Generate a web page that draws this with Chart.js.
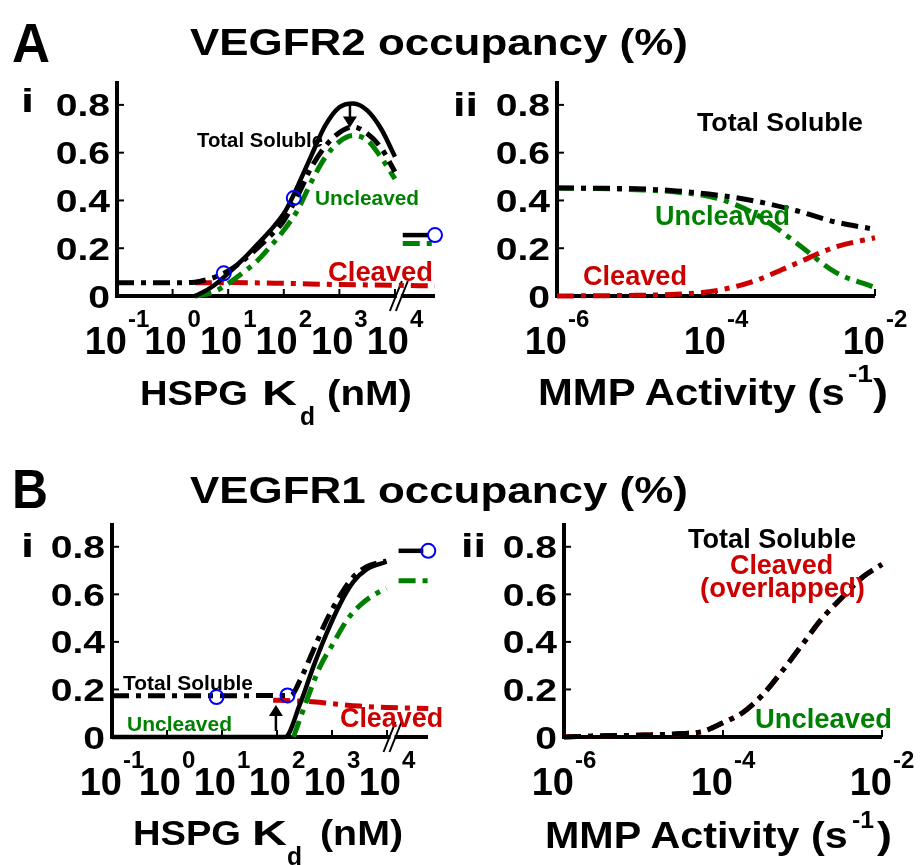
<!DOCTYPE html>
<html>
<head>
<meta charset="utf-8">
<title>VEGFR occupancy</title>
<script src="https://cdn.jsdelivr.net/npm/chart.js@4.4.1/dist/chart.umd.min.js"></script>
<style>
  html, body { margin: 0; padding: 0; background: #fff; }
  #fig { position: relative; width: 920px; height: 865px; overflow: hidden; background: #fff; }
  #fig canvas { position: absolute; left: 0; top: 0; }
  .lbl { position: absolute; white-space: nowrap; line-height: 1; font-family: "Liberation Sans", Arial, sans-serif; font-weight: bold; transform-origin: 0 0; }
</style>
</head>
<body>
<div id="fig">
  <canvas id="cAi" width="920" height="865"></canvas>
  <canvas id="cAii" width="920" height="865"></canvas>
  <canvas id="cBi" width="920" height="865"></canvas>
  <canvas id="cBii" width="920" height="865"></canvas>
</div>
<script>
// x values are log10 of the axis quantity (HSPG Kd in nM, MMP activity in 1/s)

// --- A-i: VEGFR2 vs HSPG Kd
const aiSolidX = [0.4, 0.5, 0.75, 1, 1.25, 1.5, 1.75, 2, 2.125, 2.25, 2.5, 2.75, 3, 3.25, 3.5, 3.75, 4];
const aiSolidY = [0, 0.01, 0.045, 0.095, 0.15, 0.21, 0.272, 0.345, 0.398, 0.46, 0.59, 0.715, 0.79, 0.806, 0.777, 0.70, 0.583];
const aiTotalX = [-1, -0.5, 0, 0.4, 0.5, 0.75, 1, 1.25, 1.5, 1.75, 2, 2.25, 2.5, 2.75, 3, 3.25, 3.5, 3.75, 4];
const aiTotalY = [0.055, 0.055, 0.055, 0.058, 0.062, 0.078, 0.105, 0.145, 0.195, 0.25, 0.315, 0.42, 0.54, 0.628, 0.684, 0.708, 0.68, 0.62, 0.52];
const aiUnclX = [0.4, 0.5, 0.75, 1, 1.25, 1.5, 1.75, 2, 2.25, 2.5, 2.75, 3, 3.25, 3.5, 3.75, 4];
const aiUnclY = [0, 0.003, 0.018, 0.052, 0.095, 0.142, 0.205, 0.275, 0.36, 0.48, 0.582, 0.646, 0.672, 0.652, 0.58, 0.49];
const aiCleavX = [0.4, 1, 2, 3, 4, 4.72];
const aiCleavY = [0.055, 0.056, 0.053, 0.048, 0.045, 0.042];
// no-HSPG case, drawn past the axis break
const aiNoHspgSolidX = [4.14, 4.6];
const aiNoHspgSolidY = [0.255, 0.255];
const aiNoHspgUnclX = [4.14, 4.68];
const aiNoHspgUnclY = [0.22, 0.22];
const aiCircleX = [0.92, 2.18, 4.72];
const aiCircleY = [0.095, 0.41, 0.255];

// --- A-ii: VEGFR2 vs MMP activity
const aiiX = [-6, -5.5, -5, -4.5, -4, -3.5, -3, -2.5, -2];
const aiiTotal = [0.452, 0.451, 0.449, 0.44, 0.423, 0.397, 0.358, 0.31, 0.279];
const aiiUncl = [0.452, 0.45, 0.445, 0.435, 0.41, 0.342, 0.225, 0.10, 0.035];
const aiiCleav = [0, 0.001, 0.003, 0.007, 0.022, 0.065, 0.135, 0.205, 0.244];

// --- B-i: VEGFR1 vs HSPG Kd
const biSolidX = [-1, 2.145, 2.42, 2.66, 2.9, 3.15, 3.39, 3.63, 3.99];
const biSolidY = [0, 0, 0.14, 0.295, 0.435, 0.561, 0.653, 0.705, 0.737];
const biTotalX = [-1, 2.25, 2.42, 2.66, 2.9, 3.15, 3.39, 3.63, 3.99];
const biTotalY = [0.173, 0.175, 0.239, 0.365, 0.491, 0.596, 0.674, 0.716, 0.741];
const biUnclX = [2.3, 2.54, 2.78, 3.02, 3.27, 3.51, 3.75, 3.99];
const biUnclY = [0, 0.154, 0.295, 0.393, 0.491, 0.554, 0.596, 0.625];
const biCleavX = [1.93, 2.3, 2.7, 3.0, 3.5, 4.0, 4.75];
const biCleavY = [0.155, 0.152, 0.147, 0.14, 0.13, 0.124, 0.12];
const biNoHspgSolidX = [4.21, 4.66];
const biNoHspgSolidY = [0.783, 0.783];
const biNoHspgUnclX = [4.21, 4.75];
const biNoHspgUnclY = [0.657, 0.657];
const biCircleX = [0.9, 2.19, 4.75];
const biCircleY = [0.168, 0.175, 0.783];

// --- B-ii: VEGFR1 vs MMP activity (cleaved overlaps total)
const biiX = [-6, -5.5, -5, -4.5, -4.25, -4, -3.75, -3.5, -3.25, -3, -2.75, -2.5, -2.25, -2];
const biiTotal = [0, 0.005, 0.008, 0.015, 0.024, 0.06, 0.103, 0.178, 0.28, 0.39, 0.50, 0.588, 0.671, 0.726];
const biiCleav = [0, 0.005, 0.008, 0.015, 0.024, 0.06, 0.103, 0.178, 0.28, 0.39, 0.50, 0.588, 0.671, 0.726];

// ticks
const kdTicks = [-1, 0, 1, 2, 3, 4];
const mmpTicks = [-6, -4, -2];
const yTicks = [0, 0.2, 0.4, 0.6, 0.8];
const yTickText = ['0', '0.2', '0.4', '0.6', '0.8'];

const W = 920, H = 865;
const BLACK = '#000000', GREEN = '#008000', RED = '#cc0000', BLUE = '#0000ff';
const DASHDOT = [17, 7, 5, 7];
const FONT = '"Liberation Sans", Arial, sans-serif';

function pts(xs, ys) { return xs.map((x, i) => ({ x, y: ys[i] })); }

function curve(xs, ys, color, dashed) {
  return {
    data: pts(xs, ys),
    borderColor: color,
    borderWidth: dashed ? 5 : 4.5,
    borderDash: dashed ? DASHDOT : [],
    borderCapStyle: 'butt',
    borderJoinStyle: 'round',
    pointRadius: 0,
    fill: false,
    cubicInterpolationMode: 'monotone',
    clip: false
  };
}

function circles(xs, ys) {
  return {
    data: pts(xs, ys),
    showLine: false,
    pointRadius: 7,
    pointBorderWidth: 2,
    pointBorderColor: BLUE,
    pointBackgroundColor: 'rgba(0,0,0,0)',
    clip: false
  };
}

function stretchText(ctx, str, x, y, sx, align) {
  ctx.save();
  ctx.translate(x, y);
  ctx.scale(sx, 1);
  ctx.textAlign = align;
  ctx.fillText(str, 0, 0);
  ctx.restore();
}

// axes, ticks, break marks, arrows and tick labels drawn by hand (MATLAB look)
const panelAxes = {
  id: 'panelAxes',
  beforeDatasetsDraw(chart, args, o) {
    const { ctx, chartArea: a } = chart;
    const x = chart.scales.x, y = chart.scales.y;
    ctx.save();
    ctx.strokeStyle = BLACK;
    ctx.lineWidth = 4;
    ctx.lineJoin = 'miter';
    ctx.beginPath();
    ctx.moveTo(a.left, a.top);
    ctx.lineTo(a.left, a.bottom);
    ctx.lineTo(a.right, a.bottom);
    ctx.stroke();
    ctx.lineWidth = 2;
    o.yTicks.forEach(v => {
      if (v === 0) return;
      const py = y.getPixelForValue(v);
      ctx.beginPath(); ctx.moveTo(a.left, py); ctx.lineTo(a.left + 7, py); ctx.stroke();
    });
    o.xTicks.forEach(v => {
      const px = x.getPixelForValue(v);
      if (px <= a.left + 2) return;
      ctx.beginPath(); ctx.moveTo(px, a.bottom); ctx.lineTo(px, a.bottom - 7); ctx.stroke();
    });
    if (o.breakAt != null) {
      const bx = x.getPixelForValue(o.breakAt);
      ctx.fillStyle = '#fff';
      ctx.fillRect(bx - 2, a.bottom - 3, 4, 6);
      ctx.lineWidth = 2;
      [-3, 3].forEach(d => {
        ctx.beginPath();
        ctx.moveTo(bx + d - 6, a.bottom + 15);
        ctx.lineTo(bx + d + 6, a.bottom - 15);
        ctx.stroke();
      });
    }
    ctx.restore();
  },
  afterDatasetsDraw(chart, args, o) {
    const { ctx } = chart;
    const x = chart.scales.x, y = chart.scales.y;
    ctx.save();
    ctx.strokeStyle = BLACK;
    ctx.fillStyle = BLACK;
    (o.arrows || []).forEach(ar => {
      const px = x.getPixelForValue(ar.x);
      const p0 = y.getPixelForValue(ar.from);
      const p1 = y.getPixelForValue(ar.to);
      const dir = p1 > p0 ? 1 : -1;
      ctx.lineWidth = 2.5;
      ctx.beginPath(); ctx.moveTo(px, p0); ctx.lineTo(px, p1 - dir * 8); ctx.stroke();
      ctx.beginPath();
      ctx.moveTo(px, p1);
      ctx.lineTo(px - 7, p1 - dir * 11);
      ctx.lineTo(px + 7, p1 - dir * 11);
      ctx.closePath();
      ctx.fill();
    });
    ctx.restore();
  },
  afterDraw(chart, args, o) {
    const { ctx, chartArea: a } = chart;
    const x = chart.scales.x, y = chart.scales.y;
    ctx.save();
    ctx.fillStyle = BLACK;
    ctx.textBaseline = 'alphabetic';
    ctx.font = 'bold 32px ' + FONT;
    o.yTicks.forEach((v, i) => {
      stretchText(ctx, o.yTickText[i], a.left - 7, y.getPixelForValue(v) + 11.5, 1.22, 'right');
    });
    o.xTicks.forEach(v => {
      const px = x.getPixelForValue(v);
      const ex = String(v);
      ctx.font = 'bold 38px ' + FONT;
      const wb = ctx.measureText('10').width;
      ctx.font = 'bold 24px ' + FONT;
      const we = ctx.measureText(ex).width;
      const x0 = px - (wb + 1 + we) / 2;
      ctx.font = 'bold 38px ' + FONT;
      stretchText(ctx, '10', x0, a.bottom + 58, 1, 'left');
      ctx.font = 'bold 24px ' + FONT;
      stretchText(ctx, ex, x0 + wb + 1, a.bottom + 31, 1, 'left');
    });
    ctx.restore();
  }
};

function makePanel(id, box, xMin, xMax, datasets, extra) {
  return new Chart(document.getElementById(id), {
    type: 'line',
    data: { datasets },
    options: {
      responsive: false,
      animation: false,
      events: [],
      layout: { padding: { left: box.l, top: box.t, right: W - box.r, bottom: H - box.b } },
      plugins: {
        legend: { display: false },
        tooltip: { enabled: false },
        panelAxes: Object.assign({ yTicks, yTickText }, extra)
      },
      scales: {
        x: { type: 'linear', min: xMin, max: xMax, display: false },
        y: { type: 'linear', min: 0, max: 0.9, display: false }
      }
    },
    plugins: [panelAxes]
  });
}

// dataset 0 is drawn on top
makePanel('cAi', { l: 117, t: 81, r: 435, b: 296 }, -1, 4.72, [
  circles(aiCircleX, aiCircleY),
  curve(aiSolidX, aiSolidY, BLACK, false),
  curve(aiNoHspgSolidX, aiNoHspgSolidY, BLACK, false),
  curve(aiTotalX, aiTotalY, BLACK, true),
  curve(aiUnclX, aiUnclY, GREEN, true),
  curve(aiNoHspgUnclX, aiNoHspgUnclY, GREEN, true),
  curve(aiCleavX, aiCleavY, RED, true)
], { xTicks: kdTicks, breakAt: 4.07, arrows: [{ x: 3.19, from: 0.805, to: 0.705 }] });

makePanel('cAii', { l: 557, t: 81, r: 875, b: 296 }, -6, -2, [
  curve(aiiX, aiiTotal, BLACK, true),
  curve(aiiX, aiiUncl, GREEN, true),
  curve(aiiX, aiiCleav, RED, true)
], { xTicks: mmpTicks });

makePanel('cBi', { l: 112, t: 523, r: 428, b: 737 }, -1, 4.745, [
  circles(biCircleX, biCircleY),
  curve(biSolidX, biSolidY, BLACK, false),
  curve(biNoHspgSolidX, biNoHspgSolidY, BLACK, false),
  curve(biTotalX, biTotalY, BLACK, true),
  curve(biUnclX, biUnclY, GREEN, true),
  curve(biNoHspgUnclX, biNoHspgUnclY, GREEN, true),
  curve(biCleavX, biCleavY, RED, true)
], { xTicks: kdTicks, breakAt: 4.1, arrows: [{ x: 1.98, from: 0.025, to: 0.135 }] });

makePanel('cBii', { l: 564, t: 523, r: 882, b: 737 }, -6, -2, [
  curve(biiX, biiTotal, BLACK, true),
  curve(biiX, biiCleav, RED, true)
], { xTicks: mmpTicks });

// text: left x, baseline, font size, target width
const labels = [
  { text: 'A', x: 12, base: 62, size: 56, w: 38 },
  { text: 'VEGFR2 occupancy (%)', x: 190, base: 55, size: 37, w: 498 },
  { text: 'i', x: 21, base: 112, size: 34, w: 13 },
  { text: 'ii', x: 453, base: 116, size: 34, w: 25 },
  { text: 'Total Soluble', x: 197, base: 147, size: 20, w: 126 },
  { text: 'Uncleaved', x: 315, base: 205, size: 21, w: 104, color: GREEN },
  { text: 'Cleaved', x: 328, base: 282, size: 27, w: 105, color: RED },
  { text: 'Total Soluble', x: 697, base: 131, size: 26, w: 166 },
  { text: 'Uncleaved', x: 655, base: 226, size: 27, w: 135, color: GREEN },
  { text: 'Cleaved', x: 583, base: 286, size: 27, w: 104, color: RED },
  { text: 'HSPG', x: 140, base: 405, size: 35, w: 108 },
  { text: 'K', x: 262, base: 405, size: 35, w: 35 },
  { text: 'd', x: 300, base: 425, size: 25, w: 15 },
  { text: '(nM)', x: 327, base: 405, size: 35, w: 85 },
  { text: 'MMP Activity (s', x: 538, base: 405, size: 37, w: 309 },
  { text: '-1', x: 848, base: 382, size: 24, w: 25 },
  { text: ')', x: 873, base: 405, size: 37, w: 15 },

  { text: 'B', x: 12, base: 508, size: 56, w: 36 },
  { text: 'VEGFR1 occupancy (%)', x: 190, base: 503, size: 37, w: 498 },
  { text: 'i', x: 21, base: 557, size: 34, w: 13 },
  { text: 'ii', x: 461, base: 557, size: 34, w: 25 },
  { text: 'Total Soluble', x: 123, base: 690, size: 21, w: 130 },
  { text: 'Uncleaved', x: 127, base: 731, size: 21, w: 105, color: GREEN },
  { text: 'Cleaved', x: 340, base: 728, size: 27, w: 103, color: RED },
  { text: 'Total Soluble', x: 688, base: 549, size: 27, w: 168 },
  { text: 'Cleaved', x: 730, base: 575, size: 27, w: 103, color: RED },
  { text: '(overlapped)', x: 700, base: 598, size: 27, w: 165, color: RED },
  { text: 'Uncleaved', x: 755, base: 729, size: 27, w: 137, color: GREEN },
  { text: 'HSPG', x: 133, base: 845, size: 35, w: 108 },
  { text: 'K', x: 252, base: 845, size: 35, w: 35 },
  { text: 'd', x: 287, base: 865, size: 25, w: 15 },
  { text: '(nM)', x: 320, base: 845, size: 35, w: 83 },
  { text: 'MMP Activity (s', x: 545, base: 848, size: 37, w: 305 },
  { text: '-1', x: 852, base: 828, size: 24, w: 22 },
  { text: ')', x: 877, base: 848, size: 37, w: 15 }
];

const fig = document.getElementById('fig');
const mctx = document.createElement('canvas').getContext('2d');
labels.forEach(t => {
  const el = document.createElement('div');
  el.className = 'lbl';
  el.textContent = t.text;
  el.style.fontSize = t.size + 'px';
  el.style.color = t.color || BLACK;
  el.style.left = t.x + 'px';
  el.style.top = (t.base - 0.8465 * t.size) + 'px';
  mctx.font = 'bold ' + t.size + 'px ' + FONT;
  const sx = t.w / mctx.measureText(t.text).width;
  el.style.transform = 'scaleX(' + sx.toFixed(3) + ')';
  fig.appendChild(el);
});
</script>
</body>
</html>
